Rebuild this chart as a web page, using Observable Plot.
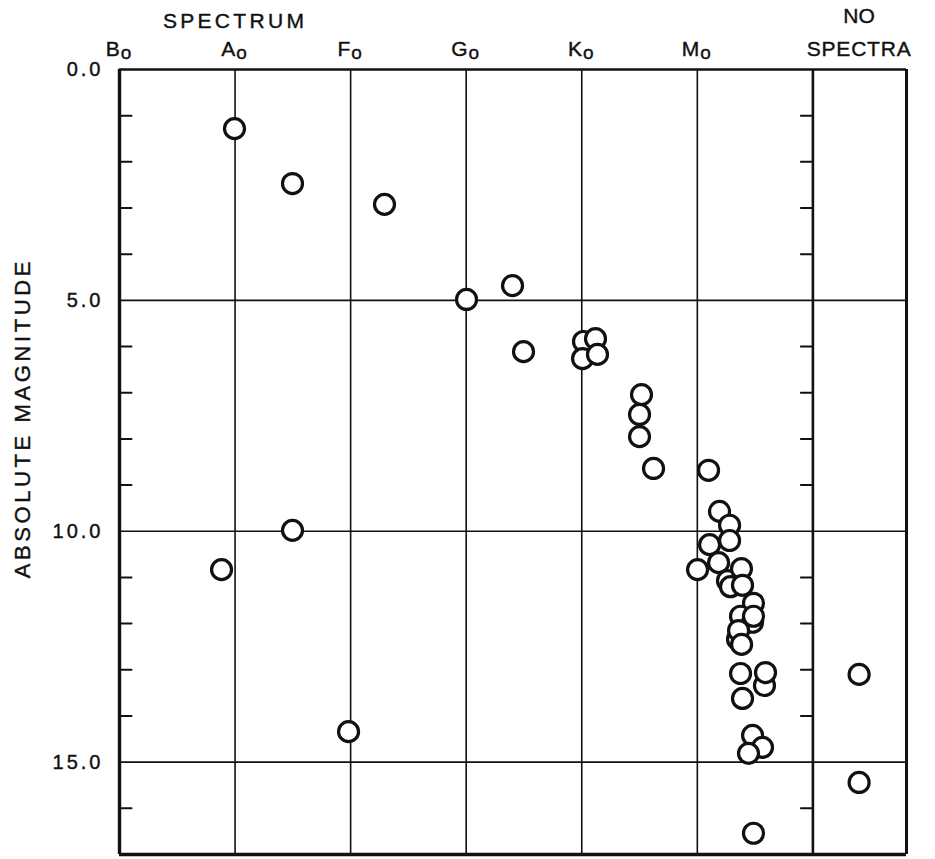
<!DOCTYPE html>
<html><head><meta charset="utf-8">
<script src="https://cdn.jsdelivr.net/npm/d3@7"></script>
<script src="https://cdn.jsdelivr.net/npm/@observablehq/plot@0.6"></script>
<style>
html,body{margin:0;padding:0;background:#fff;}
#chart svg{display:block;}
</style></head><body><div id="chart"></div>
<script>
// Spectral classes (B0 = 0, A0 = 1, ... M0 = 5); boundary of "no spectra" column
const spectralLetters = ["B", "A", "F", "G", "K", "M"];
const spectralSub = "o";
const spectralPos = [0, 1, 2, 3, 4, 5];
const noSpectraBoundary = 6;
const xMax = 6.81;
const magTicks = [0, 5, 10, 15];
const magGrid = [5, 10, 15];
const minorTicks = [1, 2, 3, 4, 6, 7, 8, 9, 11, 12, 13, 14, 16];
const magMax = 17;

// Stars with spectra: spectral position and absolute magnitude
const starSpec = [0.995, 1.497, 2.293, 3.003, 3.401, 3.496, 4.015, 4.119, 4.007, 4.136,
  4.517, 4.500, 4.500, 4.621, 5.097, 5.192, 5.279, 5.279, 5.106, 5.184, 5.002,
  5.261, 5.287, 5.382, 5.391, 5.486, 5.374, 5.478, 5.486, 5.348, 5.357, 5.383,
  5.374, 5.581, 5.590, 5.391, 5.478, 5.564, 5.443, 5.486, 0.883, 1.497, 1.982];
const starMag = [1.28, 2.47, 2.92, 4.98, 4.68, 6.11, 5.89, 5.83, 6.26, 6.17,
  7.04, 7.47, 7.95, 8.64, 8.68, 9.57, 9.87, 10.20, 10.29, 10.68, 10.83,
  11.07, 11.20, 10.81, 11.17, 11.56, 11.84, 11.97, 11.84, 12.34, 12.15, 12.45,
  13.08, 13.34, 13.06, 13.62, 14.42, 14.68, 14.81, 16.54, 10.83, 9.98, 14.34];

// Stars without spectra
const noSpecPos = 6.40;
const noSpecMag = [13.10, 15.44];

const stars = starSpec.map((s, i) => ({x: s, m: starMag[i]}))
  .concat(noSpecMag.map(m => ({x: noSpecPos, m})));

const tickRight = {draw(c, l) { c.moveTo(0, 0); c.lineTo(l, 0); }};
const tickLeft = {draw(c, l) { c.moveTo(0, 0); c.lineTo(-l, 0); }};

const font = "'Liberation Sans', Arial, sans-serif";
const ink = "#111";
const textInk = {fill: ink, stroke: ink, strokeWidth: 0.4};

const chart = Plot.plot({
  width: 935,
  height: 859,
  marginLeft: 119,
  marginRight: 29,
  marginTop: 69,
  marginBottom: 5,
  style: {fontFamily: font, background: "#fff", color: ink},
  x: {domain: [0, xMax], axis: null},
  y: {domain: [0, magMax], reverse: true, axis: null},
  marks: [
    // grid
    Plot.ruleX(spectralPos.slice(1), {x: d => d, stroke: ink, strokeWidth: 1.6}),
    Plot.ruleY(magGrid, {y: d => d, stroke: ink, strokeWidth: 1.6}),
    Plot.ruleX([noSpectraBoundary], {x: d => d, stroke: ink, strokeWidth: 2.6}),
    // frame
    Plot.ruleX([0], {x: d => d, stroke: ink, strokeWidth: 3.4}),
    Plot.ruleX([xMax], {x: d => d, stroke: ink, strokeWidth: 3}),
    Plot.ruleY([0], {y: d => d, stroke: ink, strokeWidth: 2.6}),
    Plot.ruleY([magMax], {y: d => d, stroke: ink, strokeWidth: 3.4}),
    // minor ticks
    Plot.vector(minorTicks, {x: () => 0, y: d => d, length: 12, anchor: "start", shape: tickRight, stroke: ink, strokeWidth: 2}),
    Plot.vector(minorTicks, {x: () => noSpectraBoundary, y: d => d, length: 12, anchor: "start", shape: tickLeft, stroke: ink, strokeWidth: 2}),
    // stars
    Plot.dot(stars, {x: "x", y: "m", r: 10, fill: "#fff", stroke: ink, strokeWidth: 3.2}),
    // y tick labels
    Plot.text(magTicks, {x: () => 0, y: d => d, text: d => d3.format(".1f")(d), textAnchor: "end", dx: -16, lineAnchor: "middle", fontSize: 20, ...textInk, className: "ls-ytick"}),
    // spectral labels
    Plot.text(spectralPos, {x: d => d, frameAnchor: "top", text: (d, i) => spectralLetters[i], lineAnchor: "bottom", dy: -14, dx: -1, fontSize: 21, ...textInk, className: "ls-spec"}),
    Plot.text(["SPECTRUM"], {x: () => 1, frameAnchor: "top", text: d => d, lineAnchor: "bottom", dy: -42, fontSize: 21, ...textInk, className: "ls-title"}),
    Plot.text(["NO"], {x: () => noSpecPos, frameAnchor: "top", text: d => d, lineAnchor: "bottom", dy: -47, fontSize: 21, ...textInk}),
    Plot.text(["SPECTRA"], {x: () => noSpecPos, frameAnchor: "top", text: d => d, lineAnchor: "bottom", dy: -14, fontSize: 21, ...textInk, className: "ls-nospec"}),
    // y axis label
    Plot.text(["ABSOLUTE MAGNITUDE"], {x: () => 0, y: () => 7.55, text: d => d, rotate: -90, dx: -97, lineAnchor: "middle", fontSize: 22, ...textInk, className: "ls-ylabel"})
  ]
});

// lettering spacing, like the hand-lettered original
const svg = d3.select(chart);
svg.selectAll(".ls-ytick text").attr("letter-spacing", 3);
svg.selectAll(".ls-title text").attr("letter-spacing", 3.3);
svg.selectAll(".ls-nospec text").attr("letter-spacing", 0.8);
svg.selectAll(".ls-ylabel text").attr("letter-spacing", 3.6);
// subscript "o" after each spectral class letter
svg.selectAll(".ls-spec text").each(function() {
  const t = d3.select(this);
  const letter = t.text();
  t.text(null);
  t.append("tspan").text(letter);
  t.append("tspan").attr("font-size", 19).attr("dx", 1).attr("dy", 3).text(spectralSub);
});
document.getElementById("chart").appendChild(chart);
</script></body></html>
